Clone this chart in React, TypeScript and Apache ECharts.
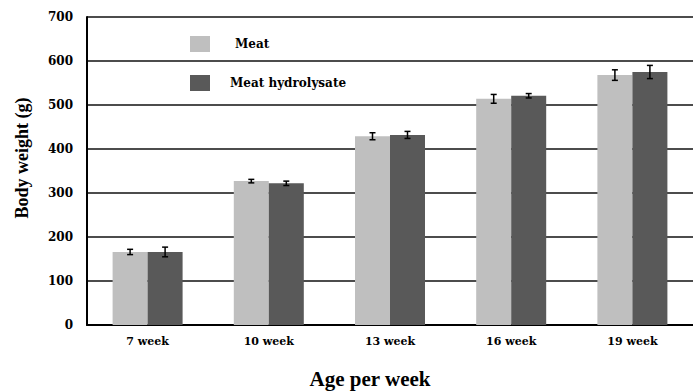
import React, { useEffect, useRef } from "react";
import * as echarts from "echarts";

const categories = ["7 week", "10 week", "13 week", "16 week", "19 week"];
const meatValues = [166, 327, 429, 514, 568];
const meatErrors = [6, 4, 8, 10, 12];
const hydroValues = [166, 322, 432, 521, 575];
const hydroErrors = [11, 5, 8, 5, 15];
const seriesNames = ["Meat", "Meat hydrolysate"];
const yTicks = { min: 0, max: 700, interval: 100 };

const TIMES = "'Liberation Serif', 'Times New Roman', serif";
const WIDE = "'DejaVu Serif', serif";
const BAR_W = 35;

function errorSeries(values: number[], errors: number[], offset: number) {
  return {
    type: "custom",
    silent: true,
    z: 10,
    data: values.map((v, i) => [i, v - errors[i], v + errors[i]]),
    renderItem: (params: any, api: any) => {
      const idx = api.value(0);
      const lo = api.coord([idx, api.value(1)]);
      const hi = api.coord([idx, api.value(2)]);
      const x = lo[0] + offset;
      const cap = 3;
      const style = { stroke: "#000", lineWidth: 1.5 };
      return {
        type: "group",
        children: [
          { type: "line", shape: { x1: x, y1: lo[1], x2: x, y2: hi[1] }, style },
          { type: "line", shape: { x1: x - cap, y1: lo[1], x2: x + cap, y2: lo[1] }, style },
          { type: "line", shape: { x1: x - cap, y1: hi[1], x2: x + cap, y2: hi[1] }, style },
        ],
      };
    },
  };
}

export default function App() {
  const ref = useRef<HTMLDivElement>(null);
  useEffect(() => {
    document.body.style.margin = "0";
    const chart = echarts.init(ref.current!, null, { renderer: "svg" });
    const legendText = {
      fontFamily: WIDE,
      fontWeight: "bold",
      fontSize: 12,
      color: "#000",
    };
    chart.setOption({
      animation: false,
      backgroundColor: "#fff",
      grid: { left: 87, top: 17, bottom: 67, width: 615 },
      legend: {
        orient: "vertical",
        left: 190,
        top: 36,
        padding: 0,
        itemWidth: 20,
        itemHeight: 16,
        itemGap: 23,
        icon: "rect",
        data: seriesNames,
        formatter: (name: string) =>
          name === seriesNames[0] ? "{m|" + name + "}" : "{h|" + name + "}",
        textStyle: {
          ...legendText,
          rich: {
            m: { ...legendText, padding: [0, 0, 0, 20] },
            h: { ...legendText, padding: [0, 0, 0, 15] },
          },
        },
      },
      xAxis: {
        type: "category",
        data: categories,
        axisLine: { lineStyle: { color: "#000", width: 2 } },
        axisTick: { show: false },
        axisLabel: {
          color: "#000",
          fontFamily: WIDE,
          fontWeight: "bold",
          fontSize: 11,
          margin: 11,
        },
      },
      yAxis: {
        type: "value",
        min: yTicks.min,
        max: yTicks.max,
        interval: yTicks.interval,
        axisLine: { show: true, lineStyle: { color: "#000", width: 2 } },
        axisTick: { show: false },
        splitLine: { lineStyle: { color: "#111", width: 1.5 } },
        axisLabel: {
          color: "#000",
          fontFamily: WIDE,
          fontWeight: "bold",
          fontSize: 12,
          margin: 14,
        },
      },
      graphic: [
        {
          type: "text",
          rotation: Math.PI / 2,
          x: 22,
          y: 158,
          style: {
            text: "Body weight (g)",
            fontFamily: TIMES,
            fontWeight: "bold",
            fontSize: 18,
            fill: "#000",
            align: "center",
            verticalAlign: "middle",
          },
        },
        {
          type: "text",
          x: 370,
          y: 379,
          style: {
            text: "Age per week",
            fontFamily: TIMES,
            fontWeight: "bold",
            fontSize: 21,
            fill: "#000",
            align: "center",
            verticalAlign: "middle",
          },
        },
      ],
      series: [
        {
          name: seriesNames[0],
          type: "bar",
          data: meatValues,
          barWidth: BAR_W,
          barGap: "0%",
          itemStyle: { color: "#bfbfbf" },
        },
        {
          name: seriesNames[1],
          type: "bar",
          data: hydroValues,
          barWidth: BAR_W,
          barGap: "0%",
          itemStyle: { color: "#595959" },
        },
        errorSeries(meatValues, meatErrors, -BAR_W / 2),
        errorSeries(hydroValues, hydroErrors, BAR_W / 2),
      ],
    });
    return () => chart.dispose();
  }, []);
  return <div ref={ref} style={{ width: 693, height: 392 }} />;
}
